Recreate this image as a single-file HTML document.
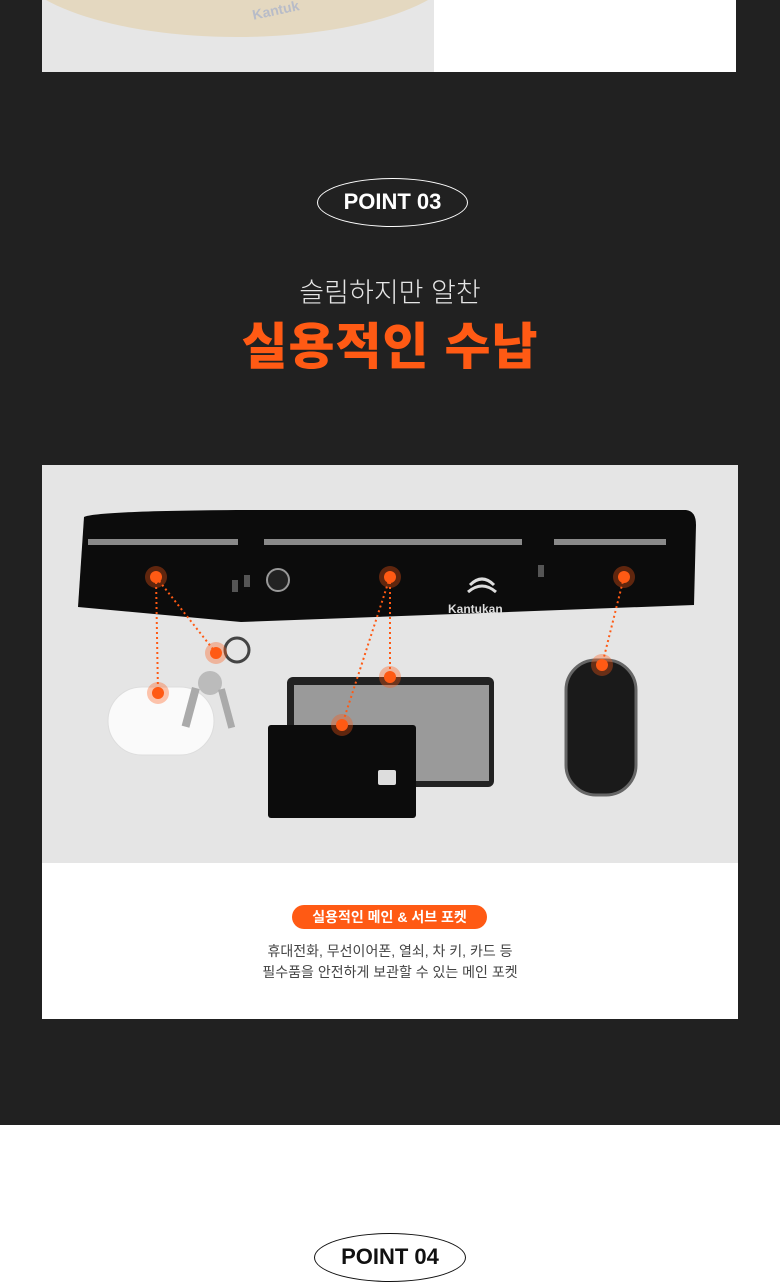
<!DOCTYPE html>
<html><head><meta charset="utf-8"><style>
*{margin:0;padding:0;box-sizing:border-box}
body{width:780px;height:1280px;overflow:hidden;background:#fff;font-family:"Liberation Sans","Noto Sans CJK KR",sans-serif;position:relative}
.dark{position:absolute;left:0;top:0;width:780px;height:1125px;background:#212121}
.abs{position:absolute}
.pt{position:absolute;border-radius:50%;text-align:center;font-weight:bold;font-size:22px}
</style></head><body>
<div class="dark"></div>
<div class="abs" style="left:42px;top:0;width:392px;height:72px;background:#e6e6e6;overflow:hidden">
<div class="abs" style="left:-30px;top:-120px;width:450px;height:157px;border-radius:50%;background:#e4d8c0"></div>
<div class="abs" style="left:210px;top:2px;color:#b8bcc8;font-size:14px;font-weight:bold;transform:rotate(-12deg)">Kantuk</div>
</div>
<div class="abs" style="left:434px;top:0;width:302px;height:72px;background:#fff"></div>

<div class="pt" style="left:317px;top:178px;width:151px;height:49px;border:1.5px solid #fff;color:#fff;line-height:46px">POINT 03</div>
<div class="abs" style="left:0;width:780px;top:275px;text-align:center;color:#e6e6e6;font-size:27px;font-weight:300;line-height:36px">슬림하지만 알찬</div>
<div class="abs" style="left:0;width:780px;top:316px;text-align:center;color:#ff5a14;font-size:50px;font-weight:900;line-height:62px;letter-spacing:1px">실용적인 수납</div>

<svg class="abs" style="left:42px;top:465px" width="696" height="398" viewBox="0 0 696 398">
<rect width="696" height="398" fill="#e5e5e5"/>
<path d="M48 52 Q60 46 200 45 L650 45 Q660 46 660 60 L658 140 L205 157 L42 142 Z" fill="#0c0c0c" transform="translate(-6,0)"/>
<rect x="46" y="74" width="150" height="6" fill="#8a8a8a"/>
<rect x="222" y="74" width="258" height="6" fill="#8a8a8a"/>
<rect x="512" y="74" width="112" height="6" fill="#8a8a8a"/>
<circle cx="236" cy="115" r="11" fill="#222" stroke="#999" stroke-width="2"/>
<rect x="190" y="115" width="6" height="12" fill="#555"/><rect x="202" y="110" width="6" height="12" fill="#555"/>
<rect x="496" y="100" width="6" height="12" fill="#555"/>
<text x="406" y="148" fill="#ddd" font-size="12" font-weight="bold" font-family="Liberation Sans">Kantukan</text>
<path d="M428 120 q12 -12 24 0 M426 127 q14 -12 28 0" stroke="#ddd" stroke-width="3" fill="none"/>
<rect x="66" y="222" width="106" height="68" rx="34" fill="#fafafa" stroke="#ddd"/>
<circle cx="168" cy="218" r="12" fill="#bbb"/><rect x="150" y="222" width="8" height="40" fill="#aaa" transform="rotate(15 150 222)"/><rect x="176" y="225" width="7" height="40" fill="#aaa" transform="rotate(-15 176 225)"/>
<circle cx="195" cy="185" r="12" fill="none" stroke="#444" stroke-width="3"/>
<rect x="245" y="212" width="207" height="110" rx="6" fill="#222"/>
<rect x="252" y="220" width="195" height="96" fill="#9a9a9a"/>
<rect x="226" y="260" width="148" height="93" rx="3" fill="#0c0c0c"/>
<rect x="336" y="305" width="18" height="15" rx="2" fill="#ddd"/>
<rect x="524" y="195" width="70" height="135" rx="30" fill="#1a1a1a" stroke="#666" stroke-width="3"/>
<g stroke="#ff5a14" stroke-width="2" stroke-dasharray="2 3" fill="none">
<path d="M114 112 L116 228 M114 112 L174 188"/>
<path d="M348 112 L348 212 M348 112 L300 260"/>
<path d="M582 112 L560 200"/>
</g>
<g fill="#ff5a14">
<g fill-opacity=".35"><circle cx="114" cy="112" r="11"/><circle cx="348" cy="112" r="11"/><circle cx="582" cy="112" r="11"/><circle cx="116" cy="228" r="11"/><circle cx="174" cy="188" r="11"/><circle cx="348" cy="212" r="11"/><circle cx="300" cy="260" r="11"/><circle cx="560" cy="200" r="11"/></g>
<circle cx="114" cy="112" r="6"/><circle cx="348" cy="112" r="6"/><circle cx="582" cy="112" r="6"/><circle cx="116" cy="228" r="6"/><circle cx="174" cy="188" r="6"/><circle cx="348" cy="212" r="6"/><circle cx="300" cy="260" r="6"/><circle cx="560" cy="200" r="6"/>
</g>
</svg>
<div class="abs" style="left:42px;top:863px;width:696px;height:156px;background:#fff"></div>
<div class="abs" style="left:292px;top:905px;width:195px;height:24px;border-radius:12px;background:#ff5a14;color:#fff;font-size:14px;font-weight:bold;text-align:center;line-height:24px">실용적인 메인 &amp; 서브 포켓</div>
<div class="abs" style="left:0;width:780px;top:941px;text-align:center;color:#444;font-size:14px;line-height:21px">휴대전화, 무선이어폰, 열쇠, 차 키, 카드 등<br>필수품을 안전하게 보관할 수 있는 메인 포켓</div>

<div class="pt" style="left:314px;top:1233px;width:152px;height:49px;border:1.5px solid #111;color:#111;line-height:46px">POINT 04</div>
</body></html>
